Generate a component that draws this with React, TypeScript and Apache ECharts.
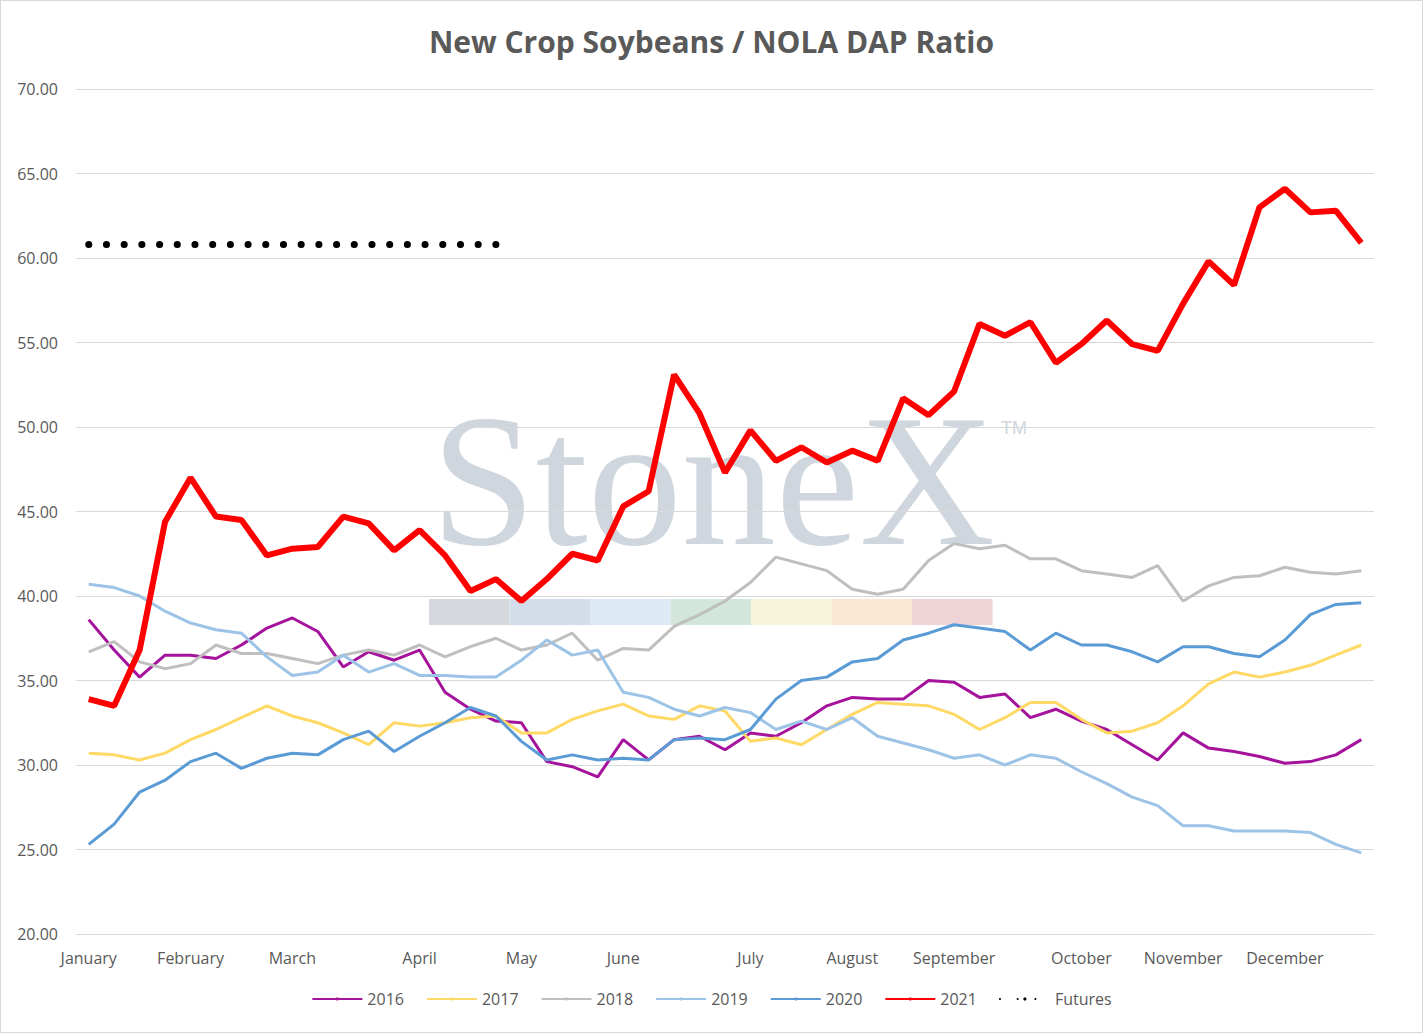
import React, { useEffect, useRef } from "react";
import * as echarts from "echarts";

const monthAt: Record<number, string> = {
  0: "January", 4: "February", 8: "March", 13: "April", 17: "May", 21: "June",
  26: "July", 30: "August", 34: "September", 39: "October", 43: "November", 47: "December",
};
const categories: string[] = Array.from({ length: 51 }, (_, i) => monthAt[i] ?? "");

const s2016 = [38.6, 36.8, 35.2, 36.5, 36.5, 36.3, 37.1, 38.1, 38.7, 37.9, 35.8, 36.7, 36.2, 36.8, 34.3, 33.3, 32.6, 32.5, 30.2, 29.9, 29.3, 31.5, 30.3, 31.5, 31.7, 30.9, 31.9, 31.7, 32.5, 33.5, 34.0, 33.9, 33.9, 35.0, 34.9, 34.0, 34.2, 32.8, 33.3, 32.6, 32.1, 31.2, 30.3, 31.9, 31.0, 30.8, 30.5, 30.1, 30.2, 30.6, 31.5];
const s2017 = [30.7, 30.6, 30.3, 30.7, 31.5, 32.1, 32.8, 33.5, 32.9, 32.5, 31.9, 31.2, 32.5, 32.3, 32.5, 32.8, 32.9, 31.9, 31.9, 32.7, 33.2, 33.6, 32.9, 32.7, 33.5, 33.2, 31.4, 31.6, 31.2, 32.1, 33.0, 33.7, 33.6, 33.5, 33.0, 32.1, 32.8, 33.7, 33.7, 32.7, 31.9, 32.0, 32.5, 33.5, 34.8, 35.5, 35.2, 35.5, 35.9, 36.5, 37.1];
const s2018 = [36.7, 37.3, 36.1, 35.7, 36.0, 37.1, 36.6, 36.6, 36.3, 36.0, 36.5, 36.8, 36.5, 37.1, 36.4, 37.0, 37.5, 36.8, 37.1, 37.8, 36.2, 36.9, 36.8, 38.2, 38.9, 39.7, 40.8, 42.3, 41.9, 41.5, 40.4, 40.1, 40.4, 42.1, 43.1, 42.8, 43.0, 42.2, 42.2, 41.5, 41.3, 41.1, 41.8, 39.7, 40.6, 41.1, 41.2, 41.7, 41.4, 41.3, 41.5];
const s2019 = [40.7, 40.5, 40.0, 39.1, 38.4, 38.0, 37.8, 36.4, 35.3, 35.5, 36.5, 35.5, 36.0, 35.3, 35.3, 35.2, 35.2, 36.2, 37.4, 36.5, 36.8, 34.3, 34.0, 33.3, 32.9, 33.4, 33.1, 32.1, 32.6, 32.1, 32.8, 31.7, 31.3, 30.9, 30.4, 30.6, 30.0, 30.6, 30.4, 29.6, 28.9, 28.1, 27.6, 26.4, 26.4, 26.1, 26.1, 26.1, 26.0, 25.3, 24.8];
const s2020 = [25.3, 26.5, 28.4, 29.1, 30.2, 30.7, 29.8, 30.4, 30.7, 30.6, 31.5, 32.0, 30.8, 31.7, 32.5, 33.4, 32.9, 31.4, 30.3, 30.6, 30.3, 30.4, 30.3, 31.5, 31.6, 31.5, 32.1, 33.9, 35.0, 35.2, 36.1, 36.3, 37.4, 37.8, 38.3, 38.1, 37.9, 36.8, 37.8, 37.1, 37.1, 36.7, 36.1, 37.0, 37.0, 36.6, 36.4, 37.4, 38.9, 39.5, 39.6];
const s2021 = [33.9, 33.5, 36.8, 44.4, 47.0, 44.7, 44.5, 42.4, 42.8, 42.9, 44.7, 44.3, 42.7, 43.9, 42.4, 40.3, 41.0, 39.7, 41.0, 42.5, 42.1, 45.3, 46.2, 53.1, 50.8, 47.3, 49.8, 48.0, 48.8, 47.9, 48.6, 48.0, 51.7, 50.7, 52.1, 56.1, 55.4, 56.2, 53.8, 54.9, 56.3, 54.9, 54.5, 57.3, 59.8, 58.4, 63.0, 64.1, 62.7, 62.8, 60.9];
const futures = Array.from({ length: 51 }, (_, i) => (i <= 16 ? 60.8 : null));

const bandColors = ["#d5d9de", "#d3dde9", "#dde9f5", "#d3e6dc", "#f6f5dc", "#f9e6d3", "#f0d3d6"];

const App: React.FC = () => {
  const ref = useRef<HTMLDivElement>(null);
  useEffect(() => {
    document.body.style.margin = "0";
    if (!ref.current) return;
    const chart = echarts.init(ref.current, undefined, { renderer: "svg" });
    const line = (name: string, data: (number | null)[], color: string, width = 3) => ({
      name, type: "line", data, symbol: "none", z: name === "2021" ? 5 : 3,
      lineStyle: { color, width }, itemStyle: { color },
    });
    chart.setOption({
      animation: false,
      backgroundColor: "#fff",
      title: {
        text: "New Crop Soybeans / NOLA DAP Ratio", left: "center", top: 20,
        textStyle: { fontFamily: "Open Sans", fontSize: 30, fontWeight: "bold", color: "#595959" },
      },
      graphic: [
        {
          type: "text", left: 430, top: 385, z: 0,
          style: { text: "StoneX", font: "188px 'Liberation Serif'", fill: "#cfd6de" },
        },
        { type: "text", left: 1000, top: 418, z: 0, style: { text: "TM", font: "18px 'Liberation Sans'", fill: "#cfd6de" } },
        ...bandColors.map((c, i) => ({
          type: "rect", z: 0, shape: { x: 428 + i * 80.5, y: 598, width: 80.5, height: 26 }, style: { fill: c },
        })),
      ],
      grid: { left: 75, right: 48, top: 88, bottom: 98 },
      xAxis: {
        type: "category", data: categories, boundaryGap: true,
        axisLine: { lineStyle: { color: "#d9d9d9" } }, axisTick: { show: false },
        axisLabel: { interval: 0, color: "#595959", fontSize: 16, fontFamily: "Open Sans", margin: 16 },
      },
      yAxis: {
        type: "value", min: 20, max: 70, interval: 5,
        axisLabel: { formatter: (v: number) => v.toFixed(2), color: "#595959", fontSize: 16, fontFamily: "Open Sans", margin: 18 },
        splitLine: { lineStyle: { color: "#d9d9d9" } },
      },
      legend: {
        bottom: 20, itemWidth: 50, itemHeight: 4, itemGap: 22,
        textStyle: { color: "#595959", fontSize: 16, fontFamily: "Open Sans" },
        data: ["2016", "2017", "2018", "2019", "2020", "2021", "Futures"],
      },
      series: [
        line("2016", s2016, "#a5129c"),
        line("2017", s2017, "#ffd966"),
        line("2018", s2018, "#bfbfbf"),
        line("2019", s2019, "#9dc3e6"),
        line("2020", s2020, "#5b9bd5"),
        line("2021", s2021, "#ff0000", 6),
        {
          name: "Futures", type: "line", data: futures, symbol: "none", z: 4,
          lineStyle: { color: "#000", width: 7, type: [0.1, 17.6], cap: "round" },
          itemStyle: { color: "#000" },
        },
      ],
    });
    return () => chart.dispose();
  }, []);
  return (
    <div style={{ width: 1421, height: 1031, border: "1px solid #d9d9d9" }}>
      <div ref={ref} style={{ width: 1421, height: 1031 }} />
    </div>
  );
};

export default App;
